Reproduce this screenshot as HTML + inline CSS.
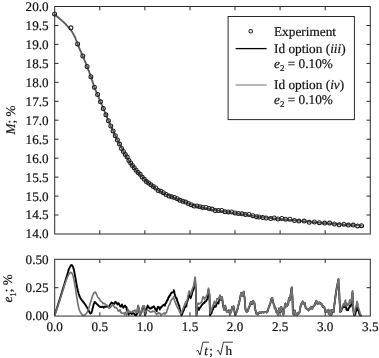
<!DOCTYPE html>
<html><head><meta charset="utf-8"><title>Chart</title>
<style>html,body{margin:0;padding:0;background:#fff;}svg{display:block;}</style>
</head><body>
<svg width="379" height="358" viewBox="0 0 379 358">
<rect width="379" height="358" fill="#fff"/>
<path d="M54.6,315.2 L55.4,312.8 L56.2,310.4 L57.0,307.9 L57.8,305.4 L58.6,302.9 L59.4,300.4 L60.2,297.8 L61.0,295.1 L61.8,292.5 L62.6,289.9 L63.4,287.3 L64.2,284.7 L65.0,282.1 L65.8,279.5 L66.6,276.9 L67.4,274.2 L68.2,271.4 L69.0,268.9 L69.8,267.3 L70.6,265.9 L71.4,265.0 L72.2,265.3 L73.0,267.0 L73.8,269.4 L74.6,273.3 L75.4,277.8 L76.2,282.4 L77.0,286.8 L77.8,290.5 L78.6,293.5 L79.4,296.0 L80.2,297.7 L81.0,299.0 L81.8,300.1 L82.6,301.1 L83.4,302.2 L84.2,303.2 L85.0,304.3 L85.8,305.4 L86.6,306.7 L87.4,308.0 L88.2,309.6 L89.0,311.3 L89.8,312.6 L90.6,313.6 L91.4,312.9 L92.2,310.2 L93.0,306.9 L93.8,304.0 L94.6,301.9 L95.4,302.3 L96.2,303.3 L97.0,304.2 L97.8,304.9 L98.6,305.7 L99.4,306.4 L100.2,306.9 L101.0,307.0 L101.6,307.0 L101.8,306.8 L102.6,306.7 L103.4,307.0 L103.6,307.7 L104.2,306.8 L105.0,306.7 L105.8,306.8 L106.2,306.4 L106.6,306.5 L107.4,306.3 L108.2,305.7 L108.2,306.8 L109.0,306.4 L109.8,305.2 L110.2,304.4 L110.6,304.0 L111.4,302.9 L111.5,302.4 L112.2,302.9 L113.0,303.2 L113.5,304.4 L113.8,303.8 L114.6,303.5 L115.4,302.1 L115.4,301.8 L116.2,302.5 L117.0,303.4 L117.4,304.4 L117.8,303.5 L118.6,303.1 L118.7,303.1 L119.4,304.9 L120.2,306.4 L120.7,305.7 L121.0,306.5 L121.8,305.3 L122.0,304.4 L122.6,306.5 L123.4,307.7 L123.4,307.8 L124.2,306.5 L125.0,305.8 L125.0,305.5 L125.8,306.9 L126.6,307.4 L126.6,308.9 L127.4,311.5 L127.6,311.1 L128.2,313.4 L128.7,314.8 L129.0,313.8 L129.8,312.6 L130.0,312.9 L130.6,313.3 L131.4,313.8 L131.9,314.1 L132.2,313.5 L133.0,313.2 L133.8,313.2 L133.8,313.3 L134.6,314.4 L135.4,315.3 L135.7,314.6 L136.2,315.2 L137.0,313.8 L137.0,313.6 L137.8,308.2 L138.2,305.9 L138.6,308.3 L139.2,310.7 L139.4,312.6 L140.1,315.0 L140.2,315.1 L141.0,312.9 L141.4,312.6 L141.8,310.6 L142.6,307.7 L143.0,306.5 L143.4,307.4 L143.6,308.1 L144.2,306.5 L144.2,306.5 L144.9,315.1 L145.0,315.3 L145.8,313.2 L145.8,313.2 L146.6,308.5 L146.8,308.1 L147.4,306.4 L147.7,305.6 L148.2,306.6 L149.0,307.5 L149.0,307.8 L149.8,308.6 L150.3,308.4 L150.6,308.7 L151.4,308.2 L151.5,307.5 L152.2,307.8 L152.8,306.9 L153.0,307.1 L153.8,306.3 L154.0,306.5 L154.6,307.5 L155.1,309.0 L155.4,309.1 L156.2,310.2 L156.7,311.1 L157.0,309.3 L157.8,307.1 L158.2,307.4 L158.6,307.0 L159.4,307.8 L159.8,309.5 L160.2,307.6 L161.0,307.2 L161.4,307.4 L161.8,306.6 L162.6,305.7 L163.0,305.3 L163.4,305.0 L164.2,304.6 L165.0,305.8 L165.0,304.6 L165.8,303.0 L166.3,302.8 L166.6,301.5 L167.4,299.8 L167.7,300.0 L168.2,298.1 L169.0,296.3 L169.1,297.2 L169.8,295.1 L170.4,295.1 L170.6,293.8 L171.4,292.9 L172.1,292.3 L172.2,292.6 L173.0,292.4 L173.8,291.3 L173.9,290.3 L174.6,293.4 L175.2,295.8 L175.4,296.4 L176.2,298.4 L176.6,297.9 L177.0,300.2 L177.8,302.3 L178.0,302.8 L178.6,304.8 L179.4,306.3 L179.4,307.3 L180.2,310.6 L180.5,311.9 L181.0,313.9 L181.5,315.4 L181.8,315.0 L182.6,312.6 L182.6,312.7 L183.4,310.8 L184.0,309.8 L184.2,308.7 L185.0,306.8 L185.4,307.0 L185.8,306.0 L186.4,306.3 L186.6,303.9 L186.8,302.8 L187.4,301.2 L187.8,300.0 L188.2,297.9 L188.2,298.0 L189.0,294.8 L189.2,294.4 L189.8,296.0 L190.6,297.9 L190.6,298.3 L191.4,295.7 L192.0,293.7 L192.2,292.7 L193.0,290.4 L193.4,289.6 L193.8,287.8 L194.5,285.4 L194.6,283.7 L195.1,278.4 L195.4,284.7 L195.9,290.9 L196.2,307.0 L196.5,315.4 L197.0,311.8 L197.6,308.4 L197.8,307.5 L198.6,308.3 L199.0,309.8 L199.4,308.6 L200.2,307.5 L200.4,307.0 L201.0,306.6 L201.8,304.9 L201.8,305.2 L202.6,304.1 L203.2,303.5 L203.4,303.5 L204.2,302.4 L204.6,302.8 L205.0,301.5 L205.8,301.4 L205.9,301.4 L206.6,300.1 L207.3,299.3 L207.4,298.5 L208.2,292.1 L208.5,289.6 L209.0,292.5 L209.4,294.4 L209.8,306.0 L210.1,315.4 L210.6,314.3 L211.4,312.6 L211.5,313.3 L212.2,310.3 L212.9,309.8 L213.0,308.9 L213.8,307.3 L214.3,305.6 L214.6,306.4 L215.4,306.8 L215.7,306.6 L216.2,305.2 L217.0,302.6 L217.1,302.8 L217.8,302.5 L218.5,303.5 L218.6,302.4 L219.4,298.5 L219.9,295.8 L220.2,297.2 L221.0,300.0 L221.0,300.0 L221.8,297.4 L222.0,297.2 L222.6,301.7 L223.0,304.9 L223.4,306.7 L224.1,309.8 L224.2,309.3 L225.0,306.6 L225.2,305.6 L225.8,308.6 L226.3,309.8 L226.6,311.2 L227.4,312.1 L227.6,311.9 L228.2,310.9 L229.0,310.5 L229.0,310.1 L229.8,313.9 L230.0,314.7 L230.6,312.3 L231.1,310.5 L231.1,311.9 L231.4,310.3 L232.1,307.7 L232.2,307.0 L232.2,306.9 L233.0,306.8 L233.5,306.3 L233.6,306.6 L233.8,308.1 L234.5,311.9 L234.6,312.3 L235.4,314.7 L235.6,314.7 L236.2,313.2 L237.0,310.5 L237.0,310.8 L237.8,308.1 L238.4,304.9 L238.6,304.9 L239.4,301.3 L239.8,300.0 L240.2,297.4 L241.0,293.6 L241.2,293.0 L241.8,294.0 L242.6,295.8 L242.6,294.9 L243.4,292.6 L243.7,291.6 L244.2,295.7 L244.7,297.9 L245.0,304.2 L245.4,309.1 L245.8,310.0 L246.6,311.8 L246.8,311.9 L247.4,311.3 L248.2,310.5 L248.2,309.7 L249.0,307.0 L249.6,306.3 L249.8,304.8 L250.6,302.7 L250.9,302.1 L251.4,303.0 L252.1,304.2 L252.2,303.7 L253.0,301.1 L253.0,300.7 L253.8,302.4 L254.4,302.8 L254.6,304.3 L255.4,310.5 L255.4,310.0 L256.2,312.9 L256.5,314.0 L257.0,314.3 L257.8,314.4 L257.9,313.3 L258.6,313.5 L259.4,312.3 L260.0,312.6 L260.2,312.5 L261.0,313.0 L261.8,312.4 L262.1,311.9 L262.6,312.1 L263.4,312.4 L263.5,312.6 L264.2,312.2 L264.9,311.9 L265.0,312.0 L265.8,312.2 L266.6,311.6 L266.6,312.5 L267.4,311.9 L267.7,311.2 L268.2,309.3 L269.0,306.8 L269.1,306.3 L269.8,305.0 L270.5,302.8 L270.6,302.3 L271.4,298.7 L271.9,297.9 L272.2,298.0 L273.0,301.5 L273.3,302.8 L273.8,304.4 L274.6,306.6 L274.7,308.4 L275.0,307.7 L275.4,307.7 L276.1,311.9 L276.1,310.5 L276.2,310.0 L277.0,312.0 L277.1,311.9 L277.5,313.3 L277.8,314.5 L278.1,314.7 L278.6,311.5 L279.2,308.4 L279.4,308.5 L280.2,310.9 L280.3,311.9 L281.0,308.3 L281.3,307.0 L281.8,309.5 L282.3,310.5 L282.6,312.4 L283.4,314.7 L283.4,314.7 L284.2,309.1 L284.5,307.7 L285.0,305.1 L285.5,303.5 L285.8,304.8 L286.6,306.5 L286.9,305.6 L287.4,305.5 L288.2,303.7 L288.3,302.8 L289.0,297.9 L289.0,298.4 L289.8,299.6 L290.1,300.0 L290.6,294.6 L290.8,293.7 L291.4,288.7 L291.8,287.5 L292.2,294.5 L292.5,297.9 L292.9,311.9 L293.0,312.8 L293.8,314.9 L293.9,314.7 L294.6,311.6 L294.8,310.5 L295.4,313.2 L295.9,314.7 L296.2,314.3 L297.0,313.7 L297.1,315.0 L297.8,313.3 L298.5,314.0 L298.6,313.1 L299.4,312.6 L299.4,312.9 L300.2,308.4 L300.4,307.0 L301.0,304.7 L301.5,303.5 L301.8,303.0 L302.6,302.5 L302.7,301.4 L303.4,304.1 L303.6,304.2 L304.2,303.0 L304.6,302.8 L305.0,304.7 L305.7,307.7 L305.8,308.3 L306.6,308.8 L307.1,309.1 L307.4,308.8 L308.2,309.5 L308.5,310.5 L309.0,309.8 L309.8,308.9 L309.9,309.1 L310.6,307.5 L311.3,307.0 L311.4,307.4 L312.2,308.8 L312.4,308.4 L313.0,307.2 L313.4,306.3 L313.8,305.8 L314.6,304.9 L314.8,304.9 L315.4,302.7 L316.2,301.4 L316.2,300.7 L317.0,302.5 L317.6,304.2 L317.8,303.4 L318.6,302.6 L319.0,302.8 L319.4,302.4 L320.0,303.5 L320.2,303.0 L321.0,303.7 L321.4,303.5 L321.8,305.3 L322.6,306.4 L322.8,307.0 L323.4,306.2 L324.2,307.7 L324.2,306.8 L325.0,309.9 L325.3,311.9 L325.8,310.5 L326.3,310.5 L326.6,311.1 L327.3,311.9 L327.4,312.4 L328.2,311.0 L328.4,309.8 L329.0,313.5 L329.5,314.7 L329.8,314.8 L330.5,310.5 L330.6,313.0 L331.4,314.8 L331.5,314.7 L332.2,310.1 L332.6,309.8 L333.0,309.9 L333.7,311.9 L333.8,309.9 L334.6,302.6 L334.7,303.5 L335.4,296.5 L336.1,292.3 L336.2,290.9 L337.0,286.8 L337.0,286.4 L337.8,282.6 L338.4,279.1 L338.6,283.3 L339.3,293.7 L339.4,297.1 L340.2,311.6 L340.3,311.9 L341.0,310.9 L341.2,311.2 L341.8,309.1 L342.3,308.4 L342.6,307.5 L343.4,305.8 L343.5,305.6 L344.2,306.1 L344.4,307.0 L345.0,303.3 L345.4,302.8 L345.8,304.6 L346.5,309.8 L346.6,309.1 L347.4,310.1 L347.7,310.2 L348.2,310.0 L348.6,308.4 L349.0,308.0 L349.6,306.6 L349.8,305.7 L350.6,305.7 L350.7,306.6 L351.4,302.4 L351.8,300.0 L352.2,296.1 L352.5,292.3 L353.0,304.4 L353.2,308.4 L353.8,313.4 L354.2,315.4 L354.6,315.3 L355.2,314.7 L355.4,313.6 L356.2,310.1 L356.3,311.2 L357.0,307.4 L357.3,309.1 L357.8,307.9 L358.4,310.5 L358.6,310.6 L359.4,314.0 L359.4,314.0 L360.2,315.2 L360.5,315.4 L361.0,315.5 L361.6,315.4" fill="none" stroke="#000" stroke-width="1.9" stroke-linejoin="round"/>
<path d="M54.6,315.2 L55.4,313.0 L56.2,310.9 L57.0,308.6 L57.8,306.4 L58.6,304.0 L59.4,301.6 L60.2,299.0 L61.0,296.4 L61.8,293.9 L62.6,291.4 L63.4,288.9 L64.2,286.3 L65.0,283.8 L65.8,281.4 L66.6,279.2 L67.4,277.3 L68.2,275.5 L69.0,274.1 L69.8,273.1 L70.6,272.4 L71.4,272.5 L72.2,273.8 L73.0,275.7 L73.8,279.1 L74.6,283.3 L75.4,288.2 L76.2,293.4 L77.0,298.7 L77.8,303.5 L78.6,307.2 L79.4,310.0 L80.2,311.9 L81.0,313.3 L81.8,314.3 L82.6,315.0 L83.4,315.5 L84.2,315.5 L85.0,314.9 L85.8,314.1 L86.6,313.1 L87.4,311.5 L88.2,309.7 L89.0,307.4 L89.8,304.8 L90.6,302.2 L91.4,299.6 L92.2,297.1 L93.0,294.8 L93.8,293.1 L94.6,292.2 L95.4,292.1 L96.2,293.7 L97.0,295.5 L97.8,297.2 L98.6,298.1 L99.4,299.0 L100.2,300.4 L100.9,301.1 L101.0,301.3 L101.8,301.9 L102.6,302.7 L102.9,303.7 L103.4,303.2 L104.2,303.5 L105.0,304.0 L105.6,304.4 L105.8,304.8 L106.6,305.2 L107.4,305.7 L108.2,305.7 L108.2,306.9 L109.0,308.2 L109.5,307.7 L109.8,307.9 L110.6,306.9 L110.8,306.4 L111.4,306.4 L112.2,305.2 L112.8,305.1 L113.0,304.5 L113.8,306.0 L114.6,307.6 L114.8,307.0 L115.4,307.8 L116.2,307.7 L116.8,308.4 L117.0,308.4 L117.8,310.0 L118.1,311.0 L118.6,310.6 L119.4,311.0 L120.1,309.7 L120.2,311.4 L121.0,312.7 L121.4,312.3 L121.8,313.2 L122.6,313.3 L123.4,313.0 L123.4,313.3 L124.2,313.9 L124.7,314.6 L125.0,312.7 L125.0,312.3 L125.8,313.5 L126.6,313.7 L126.6,314.9 L127.4,312.6 L128.2,309.5 L128.2,309.9 L129.0,311.7 L129.2,312.7 L129.8,311.3 L130.0,311.6 L130.6,311.8 L131.4,312.0 L131.9,312.2 L132.2,311.5 L133.0,310.9 L133.8,310.7 L133.8,310.8 L134.6,310.8 L135.1,310.0 L135.4,311.4 L136.2,312.4 L136.3,311.6 L137.0,312.6 L137.3,312.6 L137.8,308.1 L138.2,305.3 L138.6,307.8 L139.2,310.3 L139.4,312.3 L140.1,314.6 L140.2,314.7 L141.0,312.3 L141.4,311.9 L141.8,309.9 L142.6,307.1 L143.0,305.9 L143.4,306.7 L143.6,307.5 L144.2,305.9 L144.2,305.9 L145.0,314.2 L145.1,313.8 L145.8,312.4 L146.1,311.6 L146.6,310.7 L147.4,310.0 L147.4,310.1 L148.2,310.6 L149.0,310.7 L149.0,310.9 L149.8,311.6 L150.6,312.1 L150.9,311.6 L151.4,312.0 L152.2,311.9 L152.8,311.0 L153.0,311.5 L153.8,311.3 L154.0,311.6 L154.6,311.6 L154.6,311.3 L155.4,312.6 L156.2,313.8 L156.7,314.8 L157.0,313.7 L157.8,313.0 L158.6,312.9 L158.8,313.7 L159.4,313.1 L160.2,313.5 L160.9,315.3 L161.0,314.5 L161.8,314.4 L162.6,313.9 L163.0,313.7 L163.4,313.5 L164.2,313.1 L165.0,314.3 L165.0,313.1 L165.8,312.6 L166.5,312.6 L166.6,311.7 L167.4,309.3 L167.9,308.4 L168.2,307.0 L169.0,305.3 L169.8,303.7 L170.0,304.2 L170.6,301.3 L171.4,300.0 L171.4,299.5 L172.2,299.1 L173.0,298.5 L173.5,296.5 L173.8,298.6 L174.6,300.5 L174.9,301.4 L175.4,302.7 L176.2,305.1 L176.3,304.2 L177.0,306.8 L177.7,307.7 L177.8,307.9 L178.6,309.5 L179.1,309.8 L179.4,311.3 L180.2,312.6 L180.8,314.0 L181.0,313.6 L181.8,312.5 L181.9,311.9 L182.6,310.2 L183.3,308.4 L183.4,307.9 L184.2,305.5 L184.7,304.9 L185.0,303.3 L185.8,301.9 L186.1,302.1 L186.4,302.8 L186.6,301.6 L187.4,299.0 L187.5,298.6 L187.8,296.5 L188.2,295.0 L189.0,291.3 L189.2,290.9 L189.8,292.5 L190.6,294.4 L190.6,294.8 L191.4,292.2 L192.0,290.3 L192.2,289.3 L193.0,287.4 L193.4,286.8 L193.8,284.4 L194.5,281.2 L194.6,280.2 L195.1,277.0 L195.4,284.0 L195.9,290.9 L196.2,307.0 L196.5,315.4 L197.0,308.1 L197.3,304.9 L197.8,303.5 L198.6,303.2 L199.0,304.2 L199.4,303.5 L200.2,303.2 L200.4,302.8 L201.0,302.7 L201.8,301.4 L201.8,301.5 L202.6,298.3 L203.2,296.5 L203.4,297.2 L204.2,298.2 L204.6,299.3 L205.0,297.8 L205.8,297.3 L205.9,297.2 L206.6,295.6 L207.3,294.4 L207.4,293.9 L208.2,290.0 L208.5,288.2 L209.0,291.5 L209.4,293.7 L209.8,304.5 L210.1,313.3 L210.6,311.9 L211.4,309.9 L211.5,310.5 L212.2,307.2 L212.9,306.3 L213.0,305.4 L213.8,303.4 L214.3,301.4 L214.6,302.5 L215.4,303.6 L215.7,303.5 L216.2,301.7 L217.0,298.5 L217.1,298.6 L217.8,298.6 L218.5,300.0 L218.6,299.2 L219.4,296.9 L219.9,295.1 L220.2,296.7 L221.0,300.0 L221.0,300.0 L221.8,297.4 L222.0,297.2 L222.6,301.7 L223.0,304.9 L223.4,306.7 L224.1,309.8 L224.2,309.3 L225.0,306.6 L225.2,305.6 L225.8,308.6 L226.3,309.8 L226.6,311.2 L227.4,312.1 L227.6,311.9 L228.2,310.9 L229.0,310.5 L229.0,310.1 L229.8,313.9 L230.0,314.7 L230.6,312.3 L231.1,310.5 L231.1,311.9 L231.4,310.3 L232.1,307.7 L232.2,307.0 L232.2,306.9 L233.0,306.8 L233.5,306.3 L233.6,306.6 L233.8,308.1 L234.5,311.9 L234.6,312.3 L235.4,314.7 L235.6,314.7 L236.2,313.2 L237.0,310.5 L237.0,310.8 L237.8,308.1 L238.4,304.9 L238.6,304.9 L239.4,301.3 L239.8,300.0 L240.2,297.4 L241.0,293.6 L241.2,293.0 L241.8,294.0 L242.6,295.8 L242.6,294.9 L243.4,292.6 L243.7,291.6 L244.2,295.7 L244.7,297.9 L245.0,304.2 L245.4,309.1 L245.8,310.0 L246.6,311.8 L246.8,311.9 L247.4,311.3 L248.2,310.5 L248.2,309.7 L249.0,307.0 L249.6,306.3 L249.8,304.8 L250.6,302.7 L250.9,302.1 L251.4,303.0 L252.1,304.2 L252.2,303.7 L253.0,301.1 L253.0,300.7 L253.8,302.4 L254.4,302.8 L254.6,304.3 L255.4,310.5 L255.4,310.0 L256.2,312.9 L256.5,314.0 L257.0,314.3 L257.8,314.4 L257.9,313.3 L258.6,313.5 L259.4,312.3 L260.0,312.6 L260.2,312.5 L261.0,313.0 L261.8,312.4 L262.1,311.9 L262.6,312.1 L263.4,312.4 L263.5,312.6 L264.2,312.2 L264.9,311.9 L265.0,312.0 L265.8,312.2 L266.6,311.6 L266.6,312.5 L267.4,311.9 L267.7,311.2 L268.2,309.3 L269.0,306.8 L269.1,306.3 L269.8,305.0 L270.5,302.8 L270.6,302.3 L271.4,298.7 L271.9,297.9 L272.2,298.0 L273.0,301.5 L273.3,302.8 L273.8,304.4 L274.6,306.6 L274.7,308.4 L275.0,307.7 L275.4,307.7 L276.1,311.9 L276.1,310.5 L276.2,310.0 L277.0,312.0 L277.1,311.9 L277.5,313.3 L277.8,314.5 L278.1,314.7 L278.6,311.5 L279.2,308.4 L279.4,308.5 L280.2,310.9 L280.3,311.9 L281.0,308.3 L281.3,307.0 L281.8,309.5 L282.3,310.5 L282.6,312.4 L283.4,314.7 L283.4,314.7 L284.2,309.1 L284.5,307.7 L285.0,305.1 L285.5,303.5 L285.8,304.8 L286.6,306.5 L286.9,305.6 L287.4,305.5 L288.2,303.7 L288.3,302.8 L289.0,297.9 L289.0,298.4 L289.8,299.6 L290.1,300.0 L290.6,294.6 L290.8,293.7 L291.4,288.7 L291.8,287.5 L292.2,294.5 L292.5,297.9 L292.9,311.9 L293.0,312.8 L293.8,314.9 L293.9,314.7 L294.6,311.6 L294.8,310.5 L295.4,313.2 L295.9,314.7 L296.2,314.3 L297.0,313.7 L297.1,315.0 L297.8,313.3 L298.5,314.0 L298.6,313.1 L299.4,312.6 L299.4,312.9 L300.2,308.4 L300.4,307.0 L301.0,304.7 L301.5,303.5 L301.8,303.0 L302.6,302.5 L302.7,301.4 L303.4,304.1 L303.6,304.2 L304.2,303.0 L304.6,302.8 L305.0,304.7 L305.7,307.7 L305.8,308.3 L306.6,308.8 L307.1,309.1 L307.4,308.8 L308.2,309.5 L308.5,310.5 L309.0,309.8 L309.8,308.9 L309.9,309.1 L310.6,307.5 L311.3,307.0 L311.4,307.4 L312.2,308.8 L312.4,308.4 L313.0,307.2 L313.4,306.3 L313.8,305.8 L314.6,304.9 L314.8,304.9 L315.4,302.7 L316.2,301.4 L316.2,300.7 L317.0,302.5 L317.6,304.2 L317.8,303.4 L318.6,302.6 L319.0,302.8 L319.4,302.4 L320.0,303.5 L320.2,303.0 L321.0,303.7 L321.4,303.5 L321.8,305.3 L322.6,306.4 L322.8,307.0 L323.4,306.2 L324.2,307.7 L324.2,306.8 L325.0,309.9 L325.3,311.9 L325.8,310.5 L326.3,310.5 L326.6,311.1 L327.3,311.9 L327.4,312.4 L328.2,311.0 L328.4,309.8 L329.0,313.5 L329.5,314.7 L329.8,314.8 L330.5,310.5 L330.6,313.0 L331.4,314.8 L331.5,314.7 L332.2,310.1 L332.6,309.8 L333.0,309.9 L333.7,311.9 L333.8,309.9 L334.6,302.6 L334.7,303.5 L335.4,296.5 L336.1,292.3 L336.2,290.9 L337.0,286.8 L337.0,286.4 L337.8,282.6 L338.4,279.1 L338.6,283.3 L339.3,293.7 L339.4,297.1 L340.2,311.6 L340.3,311.9 L341.0,310.3 L341.2,310.5 L341.8,308.0 L342.3,307.0 L342.6,305.9 L343.4,303.7 L343.5,303.5 L344.2,304.6 L344.4,305.6 L345.0,301.0 L345.4,300.0 L345.8,301.6 L346.5,306.3 L346.6,305.3 L347.4,304.0 L347.7,303.5 L348.2,305.2 L348.6,304.9 L349.0,303.2 L349.6,300.0 L349.8,299.9 L350.6,302.4 L350.7,303.5 L351.4,299.5 L351.8,297.2 L352.2,294.1 L352.5,290.9 L353.0,303.5 L353.2,307.7 L353.8,312.7 L354.2,314.7 L354.6,313.1 L355.2,310.5 L355.4,309.2 L356.2,305.3 L356.3,306.3 L357.0,301.5 L357.3,302.8 L357.8,303.7 L358.4,308.4 L358.6,308.2 L359.4,310.5 L359.4,310.6 L360.2,313.8 L360.5,314.7 L361.0,314.9 L361.6,315.0" fill="none" stroke="#727272" stroke-width="1.65" stroke-linejoin="round"/>
<path d="M54.3,14.0 L55.1,14.8 L55.8,15.5 L56.6,16.2 L57.4,16.8 L58.2,17.4 L58.9,18.1 L59.7,18.7 L60.5,19.4 L61.3,20.0 L62.0,20.7 L62.8,21.4 L63.6,22.1 L64.3,22.8 L65.1,23.6 L65.9,24.4 L66.7,25.3 L67.4,26.1 L68.2,27.0 L69.0,27.9 L69.7,28.8 L70.5,29.7 L71.3,30.7 L72.1,31.8 L72.8,33.1 L73.6,34.5 L74.4,36.0 L75.2,37.6 L75.9,39.5 L76.7,41.5 L77.5,43.5 L78.2,45.6 L79.0,47.5 L79.8,49.3 L80.6,51.1 L81.3,52.8 L82.1,54.5 L82.9,56.3 L83.7,58.1 L84.4,59.9 L85.2,61.8 L86.0,63.7 L86.7,65.6 L87.5,67.5 L88.3,69.6 L89.1,71.6 L89.8,73.7 L90.6,75.8 L91.4,78.0 L92.1,80.4 L92.9,82.8 L93.7,85.2 L94.5,87.4 L95.2,89.3 L96.0,91.1 L96.8,92.8 L97.6,94.5 L98.3,96.3 L99.1,98.3 L99.9,100.2 L100.6,102.1 L101.4,104.0 L102.2,105.8 L103.0,107.6 L103.7,109.5 L104.5,111.3 L105.3,113.2 L106.1,115.1 L106.8,116.9 L107.6,118.7 L108.4,120.5 L109.1,122.3 L109.9,124.0 L110.7,125.7 L111.5,127.3 L112.2,129.0 L113.0,130.7 L113.8,132.4 L114.5,134.0 L115.3,135.7 L116.1,137.3 L116.9,138.9 L117.6,140.4 L118.4,142.0 L119.2,143.5 L120.0,145.0 L120.7,146.4 L121.5,147.9 L122.3,149.3 L123.0,150.7 L123.8,152.0 L124.6,153.4 L125.4,154.7 L126.1,156.0 L126.9,157.3 L127.7,158.5 L128.5,159.8 L129.2,161.0 L130.0,162.1 L130.8,163.3 L131.5,164.4 L132.3,165.4 L133.1,166.4 L133.9,167.4 L134.6,168.4 L135.4,169.4 L136.2,170.3 L137.0,171.2 L137.7,172.1 L138.5,173.0 L139.3,173.8 L140.0,174.7 L140.8,175.5 L141.6,176.3 L142.4,177.1 L143.1,177.8 L143.9,178.6 L144.7,179.3 L145.4,180.1 L146.2,180.8 L147.0,181.5 L147.8,182.2 L148.5,182.9 L149.3,183.6 L150.1,184.2 L150.9,184.9 L151.6,185.5 L152.4,186.1 L153.2,186.7 L153.9,187.3 L154.7,187.8 L155.5,188.3 L156.3,188.9 L157.0,189.4 L157.8,189.9 L158.6,190.3 L159.4,190.8 L160.1,191.3 L160.9,191.7 L161.7,192.2 L162.4,192.6 L163.2,193.0 L164.0,193.4 L164.8,193.8 L165.5,194.2 L166.3,194.5 L167.1,194.9 L167.8,195.2 L168.6,195.5 L169.4,195.9 L170.2,196.2 L170.9,196.5 L171.7,196.8 L172.5,197.0 L173.3,197.3 L174.0,197.6 L174.8,197.9 L175.6,198.2 L176.3,198.5 L177.1,198.8 L177.9,199.2 L178.7,199.5 L179.4,199.8 L180.2,200.2 L181.0,200.5 L181.8,200.8 L182.5,201.1 L183.3,201.4 L184.1,201.7 L184.8,202.0 L185.6,202.3 L186.4,202.6 L187.2,202.9 L187.9,203.2 L188.7,203.5 L189.5,203.8 L190.2,204.1 L191.0,204.4 L191.8,204.6 L192.6,204.9 L193.3,205.2 L194.1,205.4 L194.9,205.7 L195.7,205.9 L196.4,206.1 L197.2,206.3 L198.0,206.5 L198.7,206.7 L199.5,206.9 L200.3,207.1 L201.1,207.3 L201.8,207.5 L202.6,207.6 L203.4,207.8 L204.2,208.0 L204.9,208.1 L205.7,208.3 L206.5,208.4 L207.2,208.6 L208.0,208.7 L208.8,208.9 L209.6,209.0 L210.3,209.2 L211.1,209.3 L211.9,209.4 L212.6,209.6 L213.4,209.7 L214.2,209.9 L215.0,210.0 L215.7,210.1 L216.5,210.3 L217.3,210.4 L218.1,210.5 L218.8,210.6 L219.6,210.8 L220.4,210.9 L221.1,211.0 L221.9,211.1 L222.7,211.2 L223.5,211.3 L224.2,211.5 L225.0,211.6 L225.8,211.7 L226.6,211.8 L227.3,211.9 L228.1,212.0 L228.9,212.2 L229.6,212.3 L230.4,212.4 L231.2,212.5 L232.0,212.6 L232.7,212.7 L233.5,212.8 L234.3,212.9 L235.0,213.1 L235.8,213.2 L236.6,213.3 L237.4,213.4 L238.1,213.5 L238.9,213.6 L239.7,213.7 L240.5,213.8 L241.2,213.9 L242.0,214.1 L242.8,214.2 L243.5,214.3 L244.3,214.4 L245.1,214.5 L245.9,214.6 L246.6,214.8 L247.4,214.9 L248.2,215.0 L249.0,215.1 L249.7,215.3 L250.5,215.4 L251.3,215.5 L252.0,215.7 L252.8,215.8 L253.6,215.9 L254.4,216.0 L255.1,216.2 L255.9,216.3 L256.7,216.4 L257.4,216.5 L258.2,216.7 L259.0,216.8 L259.8,216.9 L260.5,217.0 L261.3,217.1 L262.1,217.2 L262.9,217.2 L263.6,217.3 L264.4,217.4 L265.2,217.5 L265.9,217.6 L266.7,217.7 L267.5,217.8 L268.3,217.8 L269.0,217.9 L269.8,218.0 L270.6,218.1 L271.4,218.1 L272.1,218.2 L272.9,218.3 L273.7,218.4 L274.4,218.4 L275.2,218.5 L276.0,218.6 L276.8,218.6 L277.5,218.7 L278.3,218.8 L279.1,218.8 L279.8,218.9 L280.6,219.0 L281.4,219.1 L282.2,219.1 L282.9,219.2 L283.7,219.3 L284.5,219.3 L285.3,219.4 L286.0,219.5 L286.8,219.5 L287.6,219.6 L288.3,219.7 L289.1,219.8 L289.9,219.8 L290.7,219.9 L291.4,220.0 L292.2,220.0 L293.0,220.1 L293.8,220.2 L294.5,220.3 L295.3,220.3 L296.1,220.4 L296.8,220.5 L297.6,220.6 L298.4,220.7 L299.2,220.7 L299.9,220.8 L300.7,220.9 L301.5,221.0 L302.3,221.0 L303.0,221.1 L303.8,221.2 L304.6,221.3 L305.3,221.3 L306.1,221.4 L306.9,221.5 L307.7,221.6 L308.4,221.6 L309.2,221.7 L310.0,221.8 L310.7,221.9 L311.5,221.9 L312.3,222.0 L313.1,222.1 L313.8,222.2 L314.6,222.2 L315.4,222.3 L316.2,222.4 L316.9,222.4 L317.7,222.5 L318.5,222.6 L319.2,222.6 L320.0,222.7 L320.8,222.8 L321.6,222.8 L322.3,222.9 L323.1,223.0 L323.9,223.0 L324.7,223.1 L325.4,223.2 L326.2,223.2 L327.0,223.3 L327.7,223.3 L328.5,223.4 L329.3,223.5 L330.1,223.5 L330.8,223.6 L331.6,223.6 L332.4,223.7 L333.1,223.8 L333.9,223.8 L334.7,223.9 L335.5,223.9 L336.2,224.0 L337.0,224.1 L337.8,224.1 L338.6,224.2 L339.3,224.2 L340.1,224.3 L340.9,224.3 L341.6,224.4 L342.4,224.4 L343.2,224.5 L344.0,224.5 L344.7,224.6 L345.5,224.6 L346.3,224.7 L347.1,224.7 L347.8,224.8 L348.6,224.8 L349.4,224.9 L350.1,224.9 L350.9,225.0 L351.7,225.0 L352.5,225.1 L353.2,225.1 L354.0,225.1 L354.8,225.2 L355.5,225.2 L356.3,225.3 L357.1,225.3 L357.9,225.4 L358.6,225.4 L359.4,225.4 L360.2,225.5 L361.0,225.5 L361.7,225.6 L362.5,225.6" fill="none" stroke="#5c5c5c" stroke-width="1.85"/>
<circle cx="54.6" cy="14.0" r="1.95" fill="none" stroke="#222" stroke-width="1.1"/>
<circle cx="70.9" cy="27.8" r="1.95" fill="none" stroke="#222" stroke-width="1.1"/>
<circle cx="77.6" cy="43.9" r="1.95" fill="none" stroke="#222" stroke-width="1.1"/>
<circle cx="82.8" cy="56.0" r="1.95" fill="none" stroke="#222" stroke-width="1.1"/>
<circle cx="87.1" cy="66.5" r="1.95" fill="none" stroke="#222" stroke-width="1.1"/>
<circle cx="90.9" cy="76.7" r="1.95" fill="none" stroke="#222" stroke-width="1.1"/>
<circle cx="94.4" cy="87.2" r="1.95" fill="none" stroke="#222" stroke-width="1.1"/>
<circle cx="97.6" cy="94.5" r="1.95" fill="none" stroke="#222" stroke-width="1.1"/>
<circle cx="100.5" cy="101.8" r="1.95" fill="none" stroke="#222" stroke-width="1.1"/>
<circle cx="103.3" cy="108.5" r="1.95" fill="none" stroke="#222" stroke-width="1.1"/>
<circle cx="105.9" cy="114.8" r="1.95" fill="none" stroke="#222" stroke-width="1.1"/>
<circle cx="108.4" cy="120.7" r="1.95" fill="none" stroke="#222" stroke-width="1.1"/>
<circle cx="110.8" cy="126.0" r="1.95" fill="none" stroke="#222" stroke-width="1.1"/>
<circle cx="113.1" cy="130.9" r="1.95" fill="none" stroke="#222" stroke-width="1.1"/>
<circle cx="115.3" cy="135.7" r="1.95" fill="none" stroke="#222" stroke-width="1.1"/>
<circle cx="117.4" cy="140.0" r="1.95" fill="none" stroke="#222" stroke-width="1.1"/>
<circle cx="119.5" cy="144.1" r="1.95" fill="none" stroke="#222" stroke-width="1.1"/>
<circle cx="121.5" cy="148.5" r="1.95" fill="none" stroke="#222" stroke-width="1.1"/>
<circle cx="123.4" cy="151.5" r="1.95" fill="none" stroke="#222" stroke-width="1.1"/>
<circle cx="125.3" cy="154.6" r="1.95" fill="none" stroke="#222" stroke-width="1.1"/>
<circle cx="127.2" cy="157.1" r="1.95" fill="none" stroke="#222" stroke-width="1.1"/>
<circle cx="128.9" cy="160.4" r="1.95" fill="none" stroke="#222" stroke-width="1.1"/>
<circle cx="130.7" cy="163.0" r="1.95" fill="none" stroke="#222" stroke-width="1.1"/>
<circle cx="132.4" cy="165.5" r="1.95" fill="none" stroke="#222" stroke-width="1.1"/>
<circle cx="134.2" cy="167.7" r="1.95" fill="none" stroke="#222" stroke-width="1.1"/>
<circle cx="136.1" cy="170.2" r="1.95" fill="none" stroke="#222" stroke-width="1.1"/>
<circle cx="138.1" cy="172.4" r="1.95" fill="none" stroke="#222" stroke-width="1.1"/>
<circle cx="140.1" cy="174.3" r="1.95" fill="none" stroke="#222" stroke-width="1.1"/>
<circle cx="142.1" cy="177.1" r="1.95" fill="none" stroke="#222" stroke-width="1.1"/>
<circle cx="144.3" cy="179.3" r="1.95" fill="none" stroke="#222" stroke-width="1.1"/>
<circle cx="146.4" cy="181.6" r="1.95" fill="none" stroke="#222" stroke-width="1.1"/>
<circle cx="148.6" cy="183.0" r="1.95" fill="none" stroke="#222" stroke-width="1.1"/>
<circle cx="150.9" cy="184.8" r="1.95" fill="none" stroke="#222" stroke-width="1.1"/>
<circle cx="153.3" cy="186.6" r="1.95" fill="none" stroke="#222" stroke-width="1.1"/>
<circle cx="155.7" cy="188.0" r="1.95" fill="none" stroke="#222" stroke-width="1.1"/>
<circle cx="158.2" cy="190.5" r="1.95" fill="none" stroke="#222" stroke-width="1.1"/>
<circle cx="160.8" cy="191.3" r="1.95" fill="none" stroke="#222" stroke-width="1.1"/>
<circle cx="163.4" cy="192.7" r="1.95" fill="none" stroke="#222" stroke-width="1.1"/>
<circle cx="166.1" cy="194.4" r="1.95" fill="none" stroke="#222" stroke-width="1.1"/>
<circle cx="168.9" cy="196.1" r="1.95" fill="none" stroke="#222" stroke-width="1.1"/>
<circle cx="171.7" cy="196.8" r="1.95" fill="none" stroke="#222" stroke-width="1.1"/>
<circle cx="174.5" cy="197.5" r="1.95" fill="none" stroke="#222" stroke-width="1.1"/>
<circle cx="177.3" cy="198.7" r="1.95" fill="none" stroke="#222" stroke-width="1.1"/>
<circle cx="180.0" cy="200.3" r="1.95" fill="none" stroke="#222" stroke-width="1.1"/>
<circle cx="182.8" cy="201.2" r="1.95" fill="none" stroke="#222" stroke-width="1.1"/>
<circle cx="185.6" cy="202.1" r="1.95" fill="none" stroke="#222" stroke-width="1.1"/>
<circle cx="188.4" cy="203.4" r="1.95" fill="none" stroke="#222" stroke-width="1.1"/>
<circle cx="191.3" cy="204.7" r="1.95" fill="none" stroke="#222" stroke-width="1.1"/>
<circle cx="194.1" cy="206.1" r="1.95" fill="none" stroke="#222" stroke-width="1.1"/>
<circle cx="197.0" cy="205.9" r="1.95" fill="none" stroke="#222" stroke-width="1.1"/>
<circle cx="200.0" cy="206.8" r="1.95" fill="none" stroke="#222" stroke-width="1.1"/>
<circle cx="202.9" cy="207.4" r="1.95" fill="none" stroke="#222" stroke-width="1.1"/>
<circle cx="205.9" cy="207.5" r="1.95" fill="none" stroke="#222" stroke-width="1.1"/>
<circle cx="209.0" cy="208.6" r="1.95" fill="none" stroke="#222" stroke-width="1.1"/>
<circle cx="212.1" cy="209.1" r="1.95" fill="none" stroke="#222" stroke-width="1.1"/>
<circle cx="215.2" cy="210.4" r="1.95" fill="none" stroke="#222" stroke-width="1.1"/>
<circle cx="218.4" cy="210.5" r="1.95" fill="none" stroke="#222" stroke-width="1.1"/>
<circle cx="221.7" cy="210.5" r="1.95" fill="none" stroke="#222" stroke-width="1.1"/>
<circle cx="225.0" cy="211.8" r="1.95" fill="none" stroke="#222" stroke-width="1.1"/>
<circle cx="228.3" cy="211.9" r="1.95" fill="none" stroke="#222" stroke-width="1.1"/>
<circle cx="231.6" cy="212.0" r="1.95" fill="none" stroke="#222" stroke-width="1.1"/>
<circle cx="235.0" cy="212.9" r="1.95" fill="none" stroke="#222" stroke-width="1.1"/>
<circle cx="238.5" cy="213.4" r="1.95" fill="none" stroke="#222" stroke-width="1.1"/>
<circle cx="242.0" cy="213.8" r="1.95" fill="none" stroke="#222" stroke-width="1.1"/>
<circle cx="245.5" cy="214.6" r="1.95" fill="none" stroke="#222" stroke-width="1.1"/>
<circle cx="249.1" cy="214.4" r="1.95" fill="none" stroke="#222" stroke-width="1.1"/>
<circle cx="252.8" cy="215.7" r="1.95" fill="none" stroke="#222" stroke-width="1.1"/>
<circle cx="256.5" cy="216.7" r="1.95" fill="none" stroke="#222" stroke-width="1.1"/>
<circle cx="259.0" cy="217.0" r="1.95" fill="none" stroke="#222" stroke-width="1.1"/>
<circle cx="262.8" cy="217.6" r="1.95" fill="none" stroke="#222" stroke-width="1.1"/>
<circle cx="266.3" cy="218.0" r="1.95" fill="none" stroke="#222" stroke-width="1.1"/>
<circle cx="270.7" cy="218.6" r="1.95" fill="none" stroke="#222" stroke-width="1.1"/>
<circle cx="274.2" cy="218.0" r="1.95" fill="none" stroke="#222" stroke-width="1.1"/>
<circle cx="278.0" cy="219.0" r="1.95" fill="none" stroke="#222" stroke-width="1.1"/>
<circle cx="281.8" cy="218.5" r="1.95" fill="none" stroke="#222" stroke-width="1.1"/>
<circle cx="285.6" cy="219.2" r="1.95" fill="none" stroke="#222" stroke-width="1.1"/>
<circle cx="290.0" cy="219.2" r="1.95" fill="none" stroke="#222" stroke-width="1.1"/>
<circle cx="294.5" cy="220.6" r="1.95" fill="none" stroke="#222" stroke-width="1.1"/>
<circle cx="298.9" cy="221.1" r="1.95" fill="none" stroke="#222" stroke-width="1.1"/>
<circle cx="304.1" cy="221.1" r="1.95" fill="none" stroke="#222" stroke-width="1.1"/>
<circle cx="309.2" cy="222.3" r="1.95" fill="none" stroke="#222" stroke-width="1.1"/>
<circle cx="314.4" cy="222.0" r="1.95" fill="none" stroke="#222" stroke-width="1.1"/>
<circle cx="319.4" cy="222.7" r="1.95" fill="none" stroke="#222" stroke-width="1.1"/>
<circle cx="324.6" cy="223.1" r="1.95" fill="none" stroke="#222" stroke-width="1.1"/>
<circle cx="329.6" cy="223.1" r="1.95" fill="none" stroke="#222" stroke-width="1.1"/>
<circle cx="334.5" cy="224.0" r="1.95" fill="none" stroke="#222" stroke-width="1.1"/>
<circle cx="339.2" cy="224.8" r="1.95" fill="none" stroke="#222" stroke-width="1.1"/>
<circle cx="344.0" cy="224.2" r="1.95" fill="none" stroke="#222" stroke-width="1.1"/>
<circle cx="348.4" cy="225.1" r="1.95" fill="none" stroke="#222" stroke-width="1.1"/>
<circle cx="353.2" cy="225.1" r="1.95" fill="none" stroke="#222" stroke-width="1.1"/>
<circle cx="357.6" cy="225.9" r="1.95" fill="none" stroke="#222" stroke-width="1.1"/>
<circle cx="361.6" cy="225.7" r="1.95" fill="none" stroke="#222" stroke-width="1.1"/>
<rect x="54.7" y="6.5" width="315.6" height="227.5" fill="none" stroke="#2a2a2a" stroke-width="1.0"/>
<rect x="54.7" y="259.3" width="315.6" height="56.75" fill="none" stroke="#2a2a2a" stroke-width="1.0"/>
<path d="M99.8,6.5 v3.8 M99.8,234.0 v-3.8 M99.8,259.3 v3.8 M99.8,316.05 v-3.8 M144.9,6.5 v3.8 M144.9,234.0 v-3.8 M144.9,259.3 v3.8 M144.9,316.05 v-3.8 M190.0,6.5 v3.8 M190.0,234.0 v-3.8 M190.0,259.3 v3.8 M190.0,316.05 v-3.8 M235.0,6.5 v3.8 M235.0,234.0 v-3.8 M235.0,259.3 v3.8 M235.0,316.05 v-3.8 M280.1,6.5 v3.8 M280.1,234.0 v-3.8 M280.1,259.3 v3.8 M280.1,316.05 v-3.8 M325.2,6.5 v3.8 M325.2,234.0 v-3.8 M325.2,259.3 v3.8 M325.2,316.05 v-3.8 M54.7,215.0 h3.8 M370.3,215.0 h-3.8 M54.7,196.1 h3.8 M370.3,196.1 h-3.8 M54.7,177.1 h3.8 M370.3,177.1 h-3.8 M54.7,158.2 h3.8 M370.3,158.2 h-3.8 M54.7,139.2 h3.8 M370.3,139.2 h-3.8 M54.7,120.2 h3.8 M370.3,120.2 h-3.8 M54.7,101.3 h3.8 M370.3,101.3 h-3.8 M54.7,82.3 h3.8 M370.3,82.3 h-3.8 M54.7,63.4 h3.8 M370.3,63.4 h-3.8 M54.7,44.4 h3.8 M370.3,44.4 h-3.8 M54.7,25.5 h3.8 M370.3,25.5 h-3.8 M54.7,287.7 h3.8 M370.3,287.7 h-3.8" fill="none" stroke="#2a2a2a" stroke-width="1.0"/>
<g font-family="'Liberation Serif', serif" font-size="13.15px" fill="#111" stroke="#111" stroke-width="0.2" text-rendering="geometricPrecision">
<text x="48.6" y="238.4" text-anchor="end">14.0</text>
<text x="48.6" y="219.4" text-anchor="end">14.5</text>
<text x="48.6" y="200.5" text-anchor="end">15.0</text>
<text x="48.6" y="181.5" text-anchor="end">15.5</text>
<text x="48.6" y="162.6" text-anchor="end">16.0</text>
<text x="48.6" y="143.6" text-anchor="end">16.5</text>
<text x="48.6" y="124.7" text-anchor="end">17.0</text>
<text x="48.6" y="105.7" text-anchor="end">17.5</text>
<text x="48.6" y="86.7" text-anchor="end">18.0</text>
<text x="48.6" y="67.8" text-anchor="end">18.5</text>
<text x="48.6" y="48.8" text-anchor="end">19.0</text>
<text x="48.6" y="29.9" text-anchor="end">19.5</text>
<text x="48.6" y="10.9" text-anchor="end">20.0</text>
<text x="48.6" y="320.4" text-anchor="end">0.00</text>
<text x="48.6" y="292.1" text-anchor="end">0.25</text>
<text x="48.6" y="263.7" text-anchor="end">0.50</text>
<text x="54.7" y="331.3" text-anchor="middle">0.0</text>
<text x="99.8" y="331.3" text-anchor="middle">0.5</text>
<text x="144.9" y="331.3" text-anchor="middle">1.0</text>
<text x="190.0" y="331.3" text-anchor="middle">1.5</text>
<text x="235.0" y="331.3" text-anchor="middle">2.0</text>
<text x="280.1" y="331.3" text-anchor="middle">2.5</text>
<text x="325.2" y="331.3" text-anchor="middle">3.0</text>
<text x="370.3" y="331.3" text-anchor="middle">3.5</text>
<text transform="translate(14.8,120) rotate(-90)" text-anchor="middle"><tspan font-style="italic">M</tspan>; %</text>
<text transform="translate(11.7,288.5) rotate(-90)" text-anchor="middle"><tspan font-style="italic">e</tspan><tspan font-size="9px" dy="4">1</tspan><tspan dy="-4">; %</tspan></text>
<text x="204.3" y="355" font-style="italic">t</text><text x="209.3" y="355">;</text><text x="225.4" y="355">h</text>
<path d="M196.3,351.2 l1.5,-0.9 l2.2,4.8 l2.9,-12.9 h6.3" fill="none" stroke="#111" stroke-width="0.85"/>
<path d="M216.8,351.2 l1.5,-0.9 l2.2,4.8 l2.9,-12.9 h9.5" fill="none" stroke="#111" stroke-width="0.85"/>
<rect x="228.1" y="16.5" width="126.29999999999998" height="103.1" fill="#fff" stroke="#2a2a2a" stroke-width="1.0"/>
<g font-size="13.3px">
<circle cx="250.7" cy="31.3" r="1.75" fill="none" stroke="#222" stroke-width="1.05"/>
<path d="M235.6,48.6 H266.6" stroke="#000" stroke-width="1.3"/>
<path d="M235.6,85 H266.6" stroke="#757575" stroke-width="1.05"/>
<text x="274" y="36.3">Experiment</text>
<text x="274" y="52.6">Id option (<tspan font-style="italic">iii</tspan>)</text>
<text x="274" y="67.9"><tspan font-style="italic">e</tspan><tspan font-size="9px" dy="3">2</tspan><tspan dy="-3"> = 0.10%</tspan></text>
<text x="274" y="89.4">Id option (<tspan font-style="italic">iv</tspan>)</text>
<text x="274" y="103.7"><tspan font-style="italic">e</tspan><tspan font-size="9px" dy="3">2</tspan><tspan dy="-3"> = 0.10%</tspan></text>
</g></g>
</svg>
</body></html>
